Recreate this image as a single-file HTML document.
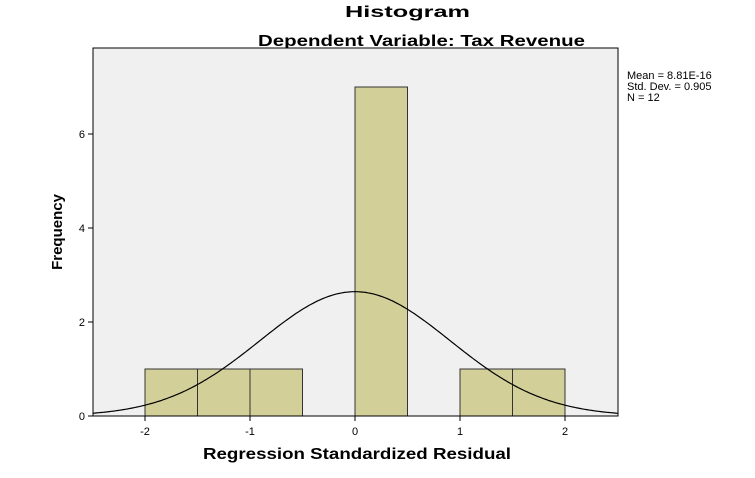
<!DOCTYPE html>
<html><head><meta charset="utf-8"><style>
body{margin:0;background:#fff;font-family:"Liberation Sans",Arial,sans-serif}
</style></head><body>
<svg width="755" height="473" xmlns="http://www.w3.org/2000/svg">
<text x="345" y="17" textLength="125" lengthAdjust="spacingAndGlyphs" font-size="16" font-weight="bold">Histogram</text>
<text x="258" y="46" textLength="327" lengthAdjust="spacingAndGlyphs" font-size="16" font-weight="bold">Dependent Variable: Tax Revenue</text>
<rect x="93" y="48" width="525" height="368" fill="#f0f0f0" stroke="#000" stroke-width="1"/>
<g id="bars"></g>
<path id="curve" fill="none" stroke="#000" stroke-width="1.2"/>
<line x1="93" y1="416" x2="618" y2="416" stroke="#000"/>
<g id="ticks" font-size="11"></g>
<text x="203" y="459" textLength="308" lengthAdjust="spacingAndGlyphs" font-size="16" font-weight="bold">Regression Standardized Residual</text>
<text transform="translate(62,232) rotate(-90)" text-anchor="middle" font-size="15" font-weight="bold">Frequency</text>
<g font-size="11">
<text x="627" y="79">Mean = 8.81E-16</text>
<text x="627" y="90">Std. Dev. = 0.905</text>
<text x="627" y="101">N = 12</text>
</g>
</svg>
<script>
const binStarts=[-2,-1.5,-1,-0.5,0,0.5,1,1.5];
const counts=[1,1,1,0,7,0,1,1];
const xTicks=[-2,-1,0,1,2];
const yTicks=[0,2,4,6];
const mean=0, sd=0.905, n=12, binW=0.5;
const X=v=>355+v*105, Y=v=>416-v*47;
const ns="http://www.w3.org/2000/svg";
const bars=document.getElementById('bars');
binStarts.forEach((b,i)=>{if(!counts[i])return;
 const r=document.createElementNS(ns,'rect');
 r.setAttribute('x',X(b));r.setAttribute('y',Y(counts[i]));
 r.setAttribute('width',X(b+binW)-X(b));r.setAttribute('height',Y(0)-Y(counts[i]));
 r.setAttribute('fill','#d3cf98');r.setAttribute('stroke','#333');r.setAttribute('stroke-width','1');
 
 
 bars.appendChild(r);});
let d='';
for(let v=-2.5;v<=2.5001;v+=0.02){const f=n*binW/(sd*Math.sqrt(2*Math.PI))*Math.exp(-((v-mean)**2)/(2*sd*sd));
 d+=(d?'L':'M')+X(v).toFixed(1)+','+Y(f).toFixed(1);}
document.getElementById('curve').setAttribute('d',d);
const t=document.getElementById('ticks');
xTicks.forEach(v=>{const l=document.createElementNS(ns,'line');
 l.setAttribute('x1',X(v));l.setAttribute('x2',X(v));l.setAttribute('y1',416);l.setAttribute('y2',421);l.setAttribute('stroke','#000');
 
 t.appendChild(l);
 const s=document.createElementNS(ns,'text');s.setAttribute('x',X(v));s.setAttribute('y',435);s.setAttribute('text-anchor','middle');s.textContent=v;
 
 t.appendChild(s);});
yTicks.forEach(v=>{const l=document.createElementNS(ns,'line');
 l.setAttribute('x1',88);l.setAttribute('x2',93);l.setAttribute('y1',Y(v));l.setAttribute('y2',Y(v));l.setAttribute('stroke','#000');
 
 t.appendChild(l);
 const s=document.createElementNS(ns,'text');s.setAttribute('x',85);s.setAttribute('y',Y(v)+4);s.setAttribute('text-anchor','end');s.textContent=v;
 
 t.appendChild(s);});
</script>
</body></html>
